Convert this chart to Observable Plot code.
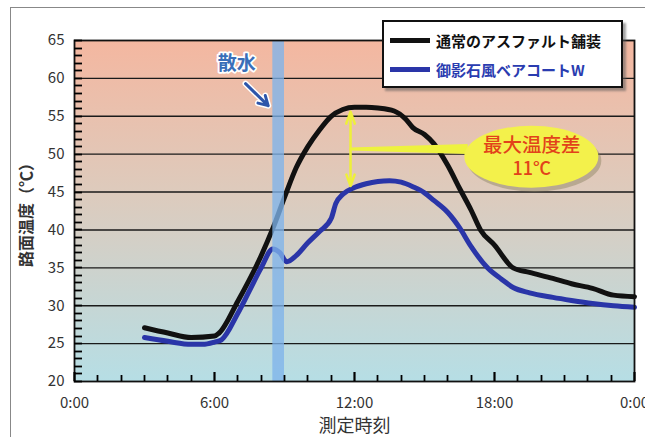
<!DOCTYPE html>
<html><head><meta charset="utf-8">
<script src="https://cdn.jsdelivr.net/npm/d3@7"></script>
<script src="https://cdn.jsdelivr.net/npm/@observablehq/plot@0.6"></script>
<style>
body{margin:0;background:#fff;font-family:"Noto Sans CJK JP","Noto Sans",sans-serif;}
#wrap{position:relative;width:645px;height:437px;overflow:hidden;background:#fff;}
#outer{position:absolute;left:10px;top:7px;width:700px;height:500px;border-left:1px solid #888;border-top:1px solid #888;pointer-events:none;}
#legend{position:absolute;left:382px;top:20px;width:237px;height:64px;border:2px solid #111;background:#fff;box-shadow:3px 3px 2px rgba(90,90,90,0.55);}
#legend .row{position:absolute;left:6px;display:flex;align-items:center;font-weight:bold;font-size:15px;white-space:nowrap;}
#legend .sw{width:40px;height:5px;margin-right:6px;}
</style></head><body>
<div id="wrap"><div id="chart"></div><div id="outer"></div><div id="legend"></div></div>
<script>
// ---- data ----
const seriesNames = ["通常のアスファルト舗装", "御影石風ベアコートW"];
const seriesColors = ["#111111", "#2a35a8"];
const asphaltTime = [3, 4, 5, 6, 6.2, 7, 8, 8.5, 9, 9.5, 10, 10.5, 11, 11.5, 12, 12.5, 13, 13.7, 14.2, 14.5, 15, 15.4, 16, 16.5, 17, 17.4, 18, 18.8, 19.5, 20.5, 21.3, 22.2, 23.1, 24];
const asphaltTemp = [27.1, 26.4, 25.8, 26.0, 26.4, 30.6, 36.6, 40.2, 44.3, 48.2, 51.0, 53.2, 55.0, 55.9, 56.2, 56.2, 56.1, 55.7, 54.6, 53.5, 52.6, 51.4, 48.5, 45.5, 42.6, 40.0, 38.0, 35.0, 34.4, 33.6, 32.9, 32.3, 31.4, 31.2];
const coatTime = [3, 4, 5, 5.5, 6, 6.3, 7, 7.5, 8, 8.5, 8.8, 9.1, 9.5, 10, 10.5, 11, 11.2, 11.5, 12, 12.5, 13, 13.5, 14, 14.5, 15, 15.4, 16, 16.5, 17, 17.7, 18.3, 18.8, 19.5, 20.5, 21.3, 22.2, 23.1, 24];
const coatTemp = [25.8, 25.3, 24.9, 24.9, 25.2, 25.5, 29.0, 32.0, 35.0, 37.5, 37.0, 35.8, 36.6, 38.3, 39.8, 41.5, 43.5, 44.7, 45.6, 46.1, 46.4, 46.5, 46.3, 45.7, 44.9, 43.9, 42.3, 40.3, 37.8, 35.0, 33.5, 32.4, 31.7, 31.1, 30.7, 30.3, 30.0, 29.8];
const yTicks = [20, 25, 30, 35, 40, 45, 50, 55, 60, 65];
const gridTemps = [25, 30, 35, 40, 45, 50, 55, 60];
const yMinor = d3.range(20, 66, 1);
const xTicks = [0, 6, 12, 18, 24];
const xTickLabels = ["0:00", "6:00", "12:00", "18:00", "0:00"];
const xMinor = d3.range(0, 25, 1);
const sprinkle = [{start: 8.5, end: 9.0}];
const sprinkleLabel = [{time: 6.95, temp: 61.9, text: "散水"}];
const sprinkleArrow = [{t1: 7.33, v1: 59.3, t2: 8.3, v2: 56.4}];
const diffArrow = [{time: 11.83, low: 45.8, high: 55.6, mid: 50.6}];
const diffLabel = [{time: 19.6, temp: 49.6, title: "最大温度差", value: "11℃"}];

const asphaltRows = asphaltTime.map((t, i) => ({time: t, temp: asphaltTemp[i]}));
const coatRows = coatTime.map((t, i) => ({time: t, temp: coatTemp[i]}));

const W = 645, H = 437, mL = 74, mR = 11, mT = 40, mB = 56;

function defsMark() {
  const g = d3.create("svg:defs");
  const lg = g.append("linearGradient").attr("id", "bgGrad").attr("x1", 0).attr("y1", 0).attr("x2", 0).attr("y2", 1);
  lg.append("stop").attr("offset", "0%").attr("stop-color", "#f4b7a0");
  lg.append("stop").attr("offset", "45%").attr("stop-color", "#ddcbbd");
  lg.append("stop").attr("offset", "100%").attr("stop-color", "#b6dee5");
  return g.node();
}

function ellipseMark(index, scales) {
  const g = d3.create("svg:g");
  const d = diffLabel[0], a = diffArrow[0];
  const cx = scales.x(d.time), cy = scales.y(d.temp);
  const rx = 67, ry = 31;
  const ax = scales.x(a.time), ay = scales.y(a.mid);
  g.append("ellipse").attr("cx", cx + 3).attr("cy", cy + 4).attr("rx", rx).attr("ry", ry).attr("fill", "#8a8060").attr("opacity", 0.45);
  const ex = cx - rx * 0.95;
  g.append("path").attr("d", `M${ax},${ay - 1.5}L${ex},${ay - 5}L${ex},${ay + 5}L${ax},${ay + 1.5}Z`).attr("fill", "#eef23f");
  g.append("ellipse").attr("cx", cx).attr("cy", cy).attr("rx", rx).attr("ry", ry).attr("fill", "#f3f14b");
  return g.node();
}

// inward minor/major ticks drawn through the plot's scales
function ticksMark(index, scales) {
  const g = d3.create("svg:g").attr("stroke", "#000").attr("fill", "none");
  const x0 = scales.x(0), y0 = scales.y(20);
  yMinor.forEach(v => {
    const y = Math.round(scales.y(v)) + 0.5;
    g.append("line").attr("x1", x0).attr("x2", x0 + 8).attr("y1", y).attr("y2", y).attr("stroke-width", 1.8);
  });
  xMinor.forEach(v => {
    const major = xTicks.includes(v);
    const x = Math.round(scales.x(v)) + 0.5;
    g.append("line").attr("x1", x).attr("x2", x).attr("y1", y0).attr("y2", y0 - (major ? 9 : 6)).attr("stroke-width", major ? 2.2 : 1.8);
  });
  return g.node();
}

const chart = Plot.plot({
  width: W, height: H,
  marginLeft: mL, marginRight: mR, marginTop: mT, marginBottom: mB,
  style: {fontFamily: '"Noto Sans CJK JP","Noto Sans",sans-serif', background: "transparent", color: "#333"},
  x: {domain: [0, 24]},
  y: {domain: [20, 65]},
  marks: [
    defsMark,
    Plot.frame({fill: "url(#bgGrad)", stroke: null}),
    Plot.ruleY(gridTemps, {stroke: "#1a1a1a", strokeWidth: 1.4}),
    Plot.line(asphaltRows, {x: "time", y: "temp", stroke: seriesColors[0], strokeWidth: 5, curve: "monotone-x"}),
    Plot.line(coatRows, {x: "time", y: "temp", stroke: seriesColors[1], strokeWidth: 5, curve: "monotone-x"}),
    Plot.rect(sprinkle, {x1: "start", x2: "end", y1: 20, y2: 65, fill: "#7fb4ea", fillOpacity: 0.78}),
    Plot.text(sprinkleLabel, {x: "time", y: "temp", text: "text", fill: "#3a6fb8", stroke: "white", strokeWidth: 3.5, fontSize: 19, fontWeight: "bold"}),
    Plot.arrow(sprinkleArrow, {x1: "t1", y1: "v1", x2: "t2", y2: "v2", stroke: "white", strokeWidth: 6, headLength: 12}),
    Plot.arrow(sprinkleArrow, {x1: "t1", y1: "v1", x2: "t2", y2: "v2", stroke: "#2d55aa", strokeWidth: 3, headLength: 10}),
    Plot.arrow(diffArrow, {x1: "time", y1: "mid", x2: "time", y2: "high", stroke: "#eef03a", strokeWidth: 2.5, headLength: 13, headAngle: 40}),
    Plot.arrow(diffArrow, {x1: "time", y1: "mid", x2: "time", y2: "low", stroke: "#eef03a", strokeWidth: 2.5, headLength: 13, headAngle: 40}),
    ellipseMark,
    Plot.text(diffLabel, {x: "time", y: "temp", text: "title", dy: -11, fill: "#e2421a", fontSize: 19.5, fontWeight: 500}),
    Plot.text(diffLabel, {x: "time", y: "temp", text: "value", dy: 12, fill: "#e2421a", fontSize: 18, fontWeight: 500}),
    Plot.frame({stroke: "#111", strokeWidth: 1.8}),
    Plot.axisY({ticks: yTicks, tickSize: 0, tickPadding: 10, fontSize: 15, label: "路面温度（℃）", labelAnchor: "center", labelOffset: 54, labelArrow: "none"}),
    Plot.axisX({ticks: xTicks, tickSize: 0, tickPadding: 16, fontSize: 15, tickFormat: (d, i) => xTickLabels[i], label: "測定時刻", labelAnchor: "center", labelOffset: 50, labelArrow: "none"}),
    ticksMark
  ]
});
document.getElementById("chart").appendChild(chart);

// axis label styling
chart.querySelectorAll("g[aria-label='y-axis label'] text").forEach(t => { t.setAttribute("font-weight", "bold"); t.setAttribute("font-size", 16); t.setAttribute("fill", "#333"); });
chart.querySelectorAll("g[aria-label='x-axis label'] text").forEach(t => { t.setAttribute("font-size", 18); t.setAttribute("fill", "#333"); });

// legend
const legend = document.getElementById("legend");
seriesNames.forEach((name, i) => {
  const r = document.createElement("div");
  r.className = "row";
  r.style.top = (i === 0 ? 8 : 37) + "px";
  r.innerHTML = `<div class="sw" style="background:${seriesColors[i]}"></div><span style="color:${i === 0 ? "#111" : "#2a3cb0"}">${name}</span>`;
  legend.appendChild(r);
});
</script>
</body></html>
